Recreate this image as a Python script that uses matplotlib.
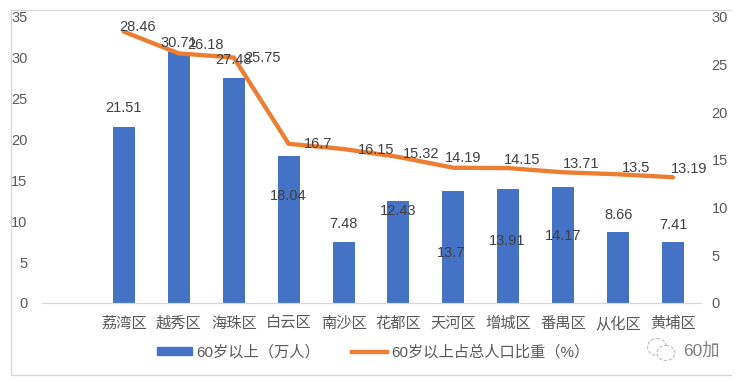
import numpy as np
import matplotlib
matplotlib.use('Agg')
import matplotlib.pyplot as plt
from matplotlib.patches import Patch, Ellipse
from matplotlib.lines import Line2D

plt.rcParams['font.family'] = ['Liberation Sans', 'Noto Sans CJK SC', 'DejaVu Sans']

districts = ['', '荔湾区', '越秀区', '海珠区', '白云区', '南沙区', '花都区', '天河区', '增城区', '番禺区', '从化区', '黄埔区']
people = [21.51, 30.71, 27.48, 18.04, 7.48, 12.43, 13.7, 13.91, 14.17, 8.66, 7.41]
share = [28.46, 26.18, 25.75, 16.7, 16.15, 15.32, 14.19, 14.15, 13.71, 13.5, 13.19]

# hand placed labels in the original, offsets in pixels from the mark
people_dx = [0, 0, 0, 0, 0, 0, -2, -1, 0, 0, 0]
people_dy = [19, 9, 18, -40, 18, -10, -62, -52, -49, 17, 17]
share_dx = [14, 27, 29, 29, 33, 23, 10, 14, 18, 18, 16]
share_dy = [5, 8, 0, 0, -1, 3, 10, 8, 8, 6, 8]

W, H = 743, 382
fig = plt.figure(figsize=(W / 100, H / 100), dpi=100)
ax = fig.add_axes([41.5 / W, (H - 303) / H, 659 / W, 286 / H])
ax2 = ax.twinx()

x = np.arange(1, 12)
ax.bar(x, people, width=0.4, color='#4472C4')
ax2.plot(x, share, color='#ED7D31', lw=3.1, solid_capstyle='round', solid_joinstyle='miter')

ax.set_xlim(-0.5, 11.5)
ax.set_ylim(0, 35)
ax2.set_ylim(0, 30)
ax.set_xticks(range(12))
ax.set_xticklabels(districts, fontsize=11, color='#595959', va='baseline')
ax.set_yticks(range(0, 36, 5))
ax2.set_yticks(range(0, 31, 5))
ax.tick_params(axis='x', length=0, pad=18)
ax.tick_params(axis='y', length=0, pad=10, labelsize=10.5, labelcolor='#595959')
ax2.tick_params(axis='y', length=0, pad=8, labelsize=10.5, labelcolor='#595959')

for a in (ax, ax2):
    for s in ['top', 'left', 'right']:
        a.spines[s].set_visible(False)
    a.spines['bottom'].set_color('#D9D9D9')

for i in range(len(x)):
    ax2.annotate(str(people[i]), (x[i], people[i] * 30 / 35), xytext=(people_dx[i], people_dy[i]),
                 textcoords='offset pixels', ha='center', va='center', fontsize=10.5, color='#404040')
    ax2.annotate(str(share[i]), (x[i], share[i]), xytext=(share_dx[i], share_dy[i]),
                 textcoords='offset pixels', ha='center', va='center', fontsize=10.5, color='#404040')

handles = [Patch(color='#4472C4'), Line2D([], [], color='#ED7D31', lw=3.1)]
fig.legend(handles, ['60岁以上（万人）', '60岁以上占总人口比重（%）'], ncol=2, frameon=False,
           loc='center', bbox_to_anchor=(373 / W, (H - 352) / H), fontsize=11, labelcolor='#595959',
           handlelength=2.3, handleheight=0.45, handletextpad=0.25, columnspacing=2.1, borderpad=0)

# chart frame and watermark, drawn in pixel coordinates
over = fig.add_axes([0, 0, 1, 1], facecolor='none')
over.set_xlim(0, W)
over.set_ylim(H, 0)
over.axis('off')
over.plot([731, 10.5, 10.5, 731], [9.5, 9.5, 375, 375], color='#D9D9D9', lw=1)
over.add_patch(Ellipse((657, 347), 19, 17, fill=False, ec='#BFBFBF', lw=0.8, ls=(0, (3, 1.5))))
over.add_patch(Ellipse((666, 353), 18, 15, facecolor='white', ec='#BFBFBF', lw=0.8, ls=(0, (3, 1.5))))
over.text(683, 351, '60加', fontsize=12.5, color='#7F7F7F', va='center')

fig.savefig('out.png', dpi=100)
